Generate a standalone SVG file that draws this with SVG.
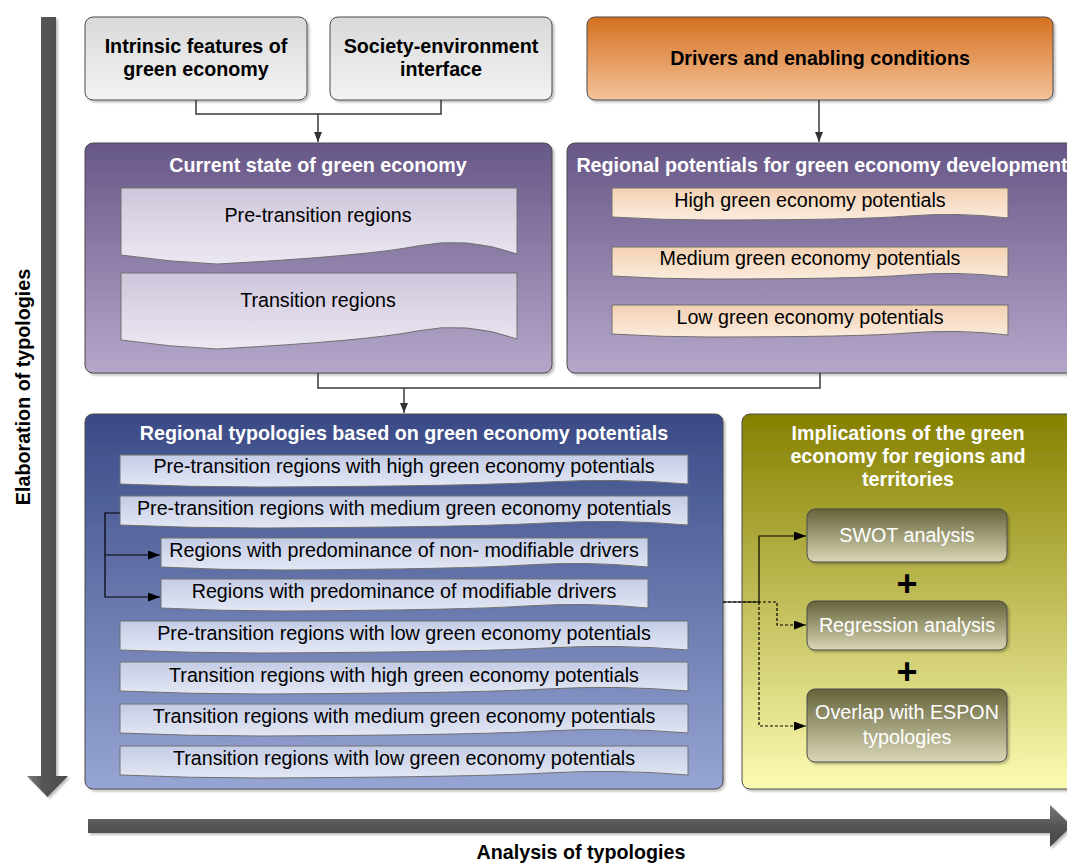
<svg xmlns="http://www.w3.org/2000/svg" width="1067" height="863" viewBox="0 0 1067 863">
<defs>
<style>
.t{font-family:"Liberation Sans",Arial,sans-serif;font-size:19.7px;text-anchor:middle;fill:#000}
.b{font-weight:bold}
.w{fill:#fff}
.box{stroke:#4a4a4a;stroke-width:1}
.doc{stroke:#707070;stroke-width:1}
.con{fill:none;stroke:#3a3a3a;stroke-width:1.5}
.cb{fill:none;stroke:#000;stroke-width:1.2}
.dash{stroke-dasharray:3,2}
</style>
<filter id="sh" x="-5%" y="-5%" width="110%" height="115%"><feDropShadow dx="2" dy="2" stdDeviation="1" flood-color="#000" flood-opacity="0.25"/></filter>
<linearGradient id="gGray" x1="0" y1="0" x2="0" y2="1"><stop offset="0" stop-color="#d9d9d9"/><stop offset="1" stop-color="#f3f3f3"/></linearGradient>
<linearGradient id="gOr" x1="0" y1="0" x2="0" y2="1"><stop offset="0" stop-color="#d47020"/><stop offset="1" stop-color="#f5c39a"/></linearGradient>
<linearGradient id="gPur" x1="0" y1="0" x2="0" y2="1"><stop offset="0" stop-color="#675787"/><stop offset="1" stop-color="#b5a7ca"/></linearGradient>
<linearGradient id="gBlu" x1="0" y1="0" x2="0" y2="1"><stop offset="0" stop-color="#3a4a86"/><stop offset="1" stop-color="#97a5d4"/></linearGradient>
<linearGradient id="gOl" x1="0" y1="0" x2="0" y2="1"><stop offset="0" stop-color="#858000"/><stop offset="1" stop-color="#fcfbb2"/></linearGradient>
<linearGradient id="gOlIn" x1="0" y1="0" x2="0" y2="1"><stop offset="0" stop-color="#65633a"/><stop offset="1" stop-color="#d9d7b6"/></linearGradient>
<linearGradient id="gDP" x1="0" y1="0" x2="0" y2="1"><stop offset="0" stop-color="#cec6db"/><stop offset="1" stop-color="#ece8f2"/></linearGradient>
<linearGradient id="gDO" x1="0" y1="0" x2="0" y2="1"><stop offset="0" stop-color="#f3d1b3"/><stop offset="1" stop-color="#fbebdd"/></linearGradient>
<linearGradient id="gDB" x1="0" y1="0" x2="0" y2="1"><stop offset="0" stop-color="#c4cce6"/><stop offset="1" stop-color="#e3e7f4"/></linearGradient>
<linearGradient id="gArV" x1="0" y1="0" x2="1" y2="0"><stop offset="0" stop-color="#7a7a7a"/><stop offset="0.4" stop-color="#555"/><stop offset="1" stop-color="#4a4a4a"/></linearGradient>
<linearGradient id="gArH" x1="0" y1="0" x2="0" y2="1"><stop offset="0" stop-color="#7a7a7a"/><stop offset="0.5" stop-color="#555"/><stop offset="1" stop-color="#444"/></linearGradient>
<marker id="arr" markerUnits="userSpaceOnUse" markerWidth="12" markerHeight="10" refX="10" refY="4" orient="auto"><path d="M0,0 L10,4 L0,8 z" fill="#333"/></marker>
<marker id="arrK" markerUnits="userSpaceOnUse" markerWidth="14" markerHeight="10" refX="12" refY="4.5" orient="auto"><path d="M0,0 L12,4.5 L0,9 z" fill="#000"/></marker>
</defs>

<!-- axes -->
<g id="axis-vertical">
<path d="M41,17 H56 V776 H68 L47.5,797 L27,776 H41 Z" fill="url(#gArV)" filter="url(#sh)"/>
<text class="t b" transform="translate(30,387) rotate(-90)">Elaboration of typologies</text>
</g>
<g id="axis-horizontal">
<path d="M88,819 H1050 V805 L1072,826 L1050,847 V833 H88 Z" fill="url(#gArH)" filter="url(#sh)"/>
<text class="t b" x="581" y="859">Analysis of typologies</text>
</g>

<!-- top boxes -->
<g id="intrinsic">
<rect class="box" x="85" y="17" width="222" height="83" rx="8" fill="url(#gGray)" filter="url(#sh)"/>
<text class="t b" x="196" y="53">Intrinsic features of</text>
<text class="t b" x="196" y="76">green economy</text>
</g>
<g id="society">
<rect class="box" x="330" y="17" width="222" height="83" rx="8" fill="url(#gGray)" filter="url(#sh)"/>
<text class="t b" x="441" y="53">Society-environment</text>
<text class="t b" x="441" y="76">interface</text>
</g>
<g id="drivers">
<rect class="box" x="587" y="17" width="466" height="83" rx="8" fill="url(#gOr)" filter="url(#sh)"/>
<text class="t b" x="820" y="65">Drivers and enabling conditions</text>
</g>

<!-- current state -->
<g id="current-state">
<rect class="box" x="85" y="143" width="467" height="230" rx="8" fill="url(#gPur)" filter="url(#sh)"/>
<text class="t b w" x="318" y="172">Current state of green economy</text>
<g id="pre-transition">
<path class="doc" d="M121,188 H517 V254 Q467,236 417,246 T217,264 Q170,262 121,255 Z" fill="url(#gDP)"/>
<text class="t" x="318" y="222">Pre-transition regions</text>
</g>
<g id="transition">
<path class="doc" d="M121,273 H517 V339 Q467,321 417,331 T217,349 Q170,347 121,340 Z" fill="url(#gDP)"/>
<text class="t" x="318" y="307">Transition regions</text>
</g>
</g>

<!-- regional potentials -->
<g id="regional-potentials">
<rect class="box" x="567" y="143" width="520" height="230" rx="8" fill="url(#gPur)" filter="url(#sh)"/>
<text class="t b w" x="822" y="172">Regional potentials for green economy development</text>
<g id="high-pot">
<path class="doc" d="M612,188 H1008 V218 Q958,212 908,216 T710,220 Q660,220 612,217 Z" fill="url(#gDO)"/>
<text class="t" x="810" y="207">High green economy potentials</text>
</g>
<g id="medium-pot">
<path class="doc" d="M612,247 H1008 V277 Q958,271 908,275 T710,279 Q660,279 612,276 Z" fill="url(#gDO)"/>
<text class="t" x="810" y="265">Medium green economy potentials</text>
</g>
<g id="low-pot">
<path class="doc" d="M612,305 H1008 V335 Q958,329 908,333 T710,337 Q660,337 612,334 Z" fill="url(#gDO)"/>
<text class="t" x="810" y="324">Low green economy potentials</text>
</g>
</g>

<!-- regional typologies -->
<g id="regional-typologies">
<rect class="box" x="85" y="414" width="638" height="375" rx="8" fill="url(#gBlu)" filter="url(#sh)"/>
<text class="t b w" x="404" y="440">Regional typologies based on green economy potentials</text>
<g id="typ1"><path class="doc" d="M120,455 H688 V484 Q617,478 546,482 T262,487 Q190,487 120,484 Z" fill="url(#gDB)"/><text class="t" x="404" y="473">Pre-transition regions with high green economy potentials</text></g>
<g id="typ2"><path class="doc" d="M120,496 H688 V525 Q617,519 546,523 T262,528 Q190,528 120,525 Z" fill="url(#gDB)"/><text class="t" x="404" y="515">Pre-transition regions with medium green economy potentials</text></g>
<g id="typ3"><path class="doc" d="M161,538 H648 V567 Q587,561 526,565 T283,570 Q220,570 161,567 Z" fill="url(#gDB)"/><text class="t" x="404" y="557">Regions with predominance of non- modifiable drivers</text></g>
<g id="typ4"><path class="doc" d="M161,579 H648 V608 Q587,602 526,606 T283,611 Q220,611 161,608 Z" fill="url(#gDB)"/><text class="t" x="404" y="598">Regions with predominance of modifiable drivers</text></g>
<g id="typ5"><path class="doc" d="M120,621 H688 V650 Q617,644 546,648 T262,653 Q190,653 120,650 Z" fill="url(#gDB)"/><text class="t" x="404" y="640">Pre-transition regions with low green economy potentials</text></g>
<g id="typ6"><path class="doc" d="M120,662 H688 V691 Q617,685 546,689 T262,694 Q190,694 120,691 Z" fill="url(#gDB)"/><text class="t" x="404" y="682">Transition regions with high green economy potentials</text></g>
<g id="typ7"><path class="doc" d="M120,704 H688 V733 Q617,727 546,731 T262,736 Q190,736 120,733 Z" fill="url(#gDB)"/><text class="t" x="404" y="723">Transition regions with medium green economy potentials</text></g>
<g id="typ8"><path class="doc" d="M120,746 H688 V775 Q617,769 546,773 T262,778 Q190,778 120,775 Z" fill="url(#gDB)"/><text class="t" x="404" y="765">Transition regions with low green economy potentials</text></g>
</g>

<!-- implications -->
<g id="implications">
<rect class="box" x="742" y="414" width="345" height="375" rx="8" fill="url(#gOl)" filter="url(#sh)"/>
<text class="t b w" x="908" y="440">Implications of the green</text>
<text class="t b w" x="908" y="463">economy for regions and</text>
<text class="t b w" x="908" y="486">territories</text>
<g id="swot">
<rect class="box" x="807" y="509" width="200" height="53" rx="8" fill="url(#gOlIn)" filter="url(#sh)"/>
<text class="t w" x="907" y="542">SWOT analysis</text>
</g>
<text class="t b" x="907" y="596" style="font-size:36px">+</text>
<g id="regression">
<rect class="box" x="807" y="601" width="200" height="49" rx="8" fill="url(#gOlIn)" filter="url(#sh)"/>
<text class="t w" x="907" y="632">Regression analysis</text>
</g>
<text class="t b" x="907" y="684" style="font-size:36px">+</text>
<g id="overlap">
<rect class="box" x="807" y="689" width="200" height="73" rx="8" fill="url(#gOlIn)" filter="url(#sh)"/>
<text class="t w" x="907" y="719">Overlap with ESPON</text>
<text class="t w" x="907" y="744">typologies</text>
</g>
</g>

<!-- connectors -->
<g id="connectors">
<path class="con" d="M196,100 V114 H441 V100"/>
<path class="con" d="M318,114 V142" marker-end="url(#arr)"/>
<path class="con" d="M819,100 V142" marker-end="url(#arr)"/>
<path class="con" d="M318,373 V388 H820 V373"/>
<path class="con" d="M404,388 V413" marker-end="url(#arr)"/>
<path class="cb" d="M120,513 H105 V597 H160" marker-end="url(#arrK)"/>
<path class="cb" d="M105,555 H160" marker-end="url(#arrK)"/>
<path class="cb" d="M723,602 H759 V536 H806" marker-end="url(#arrK)"/>
<path class="cb dash" d="M723,602 H777 V625 H806" marker-end="url(#arrK)"/>
<path class="cb dash" d="M759,602 V726 H806" marker-end="url(#arrK)"/>
</g>
</svg>
